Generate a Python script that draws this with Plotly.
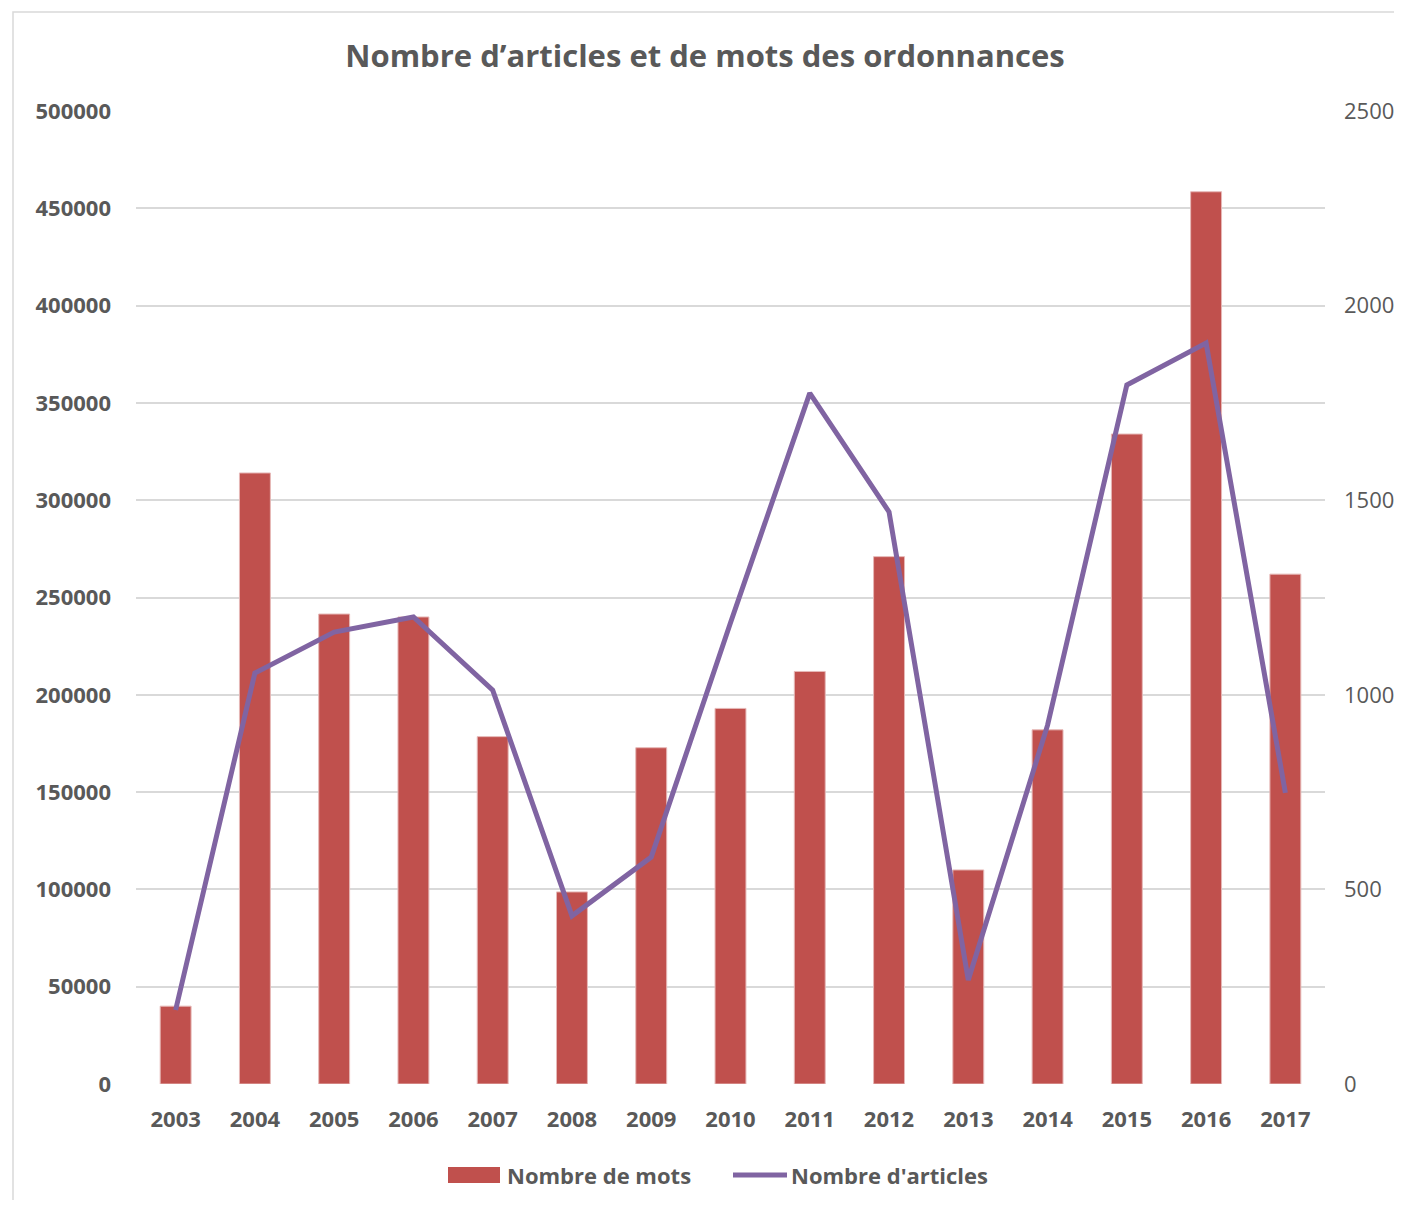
import plotly.graph_objects as go

years = ["2003", "2004", "2005", "2006", "2007", "2008", "2009", "2010",
         "2011", "2012", "2013", "2014", "2015", "2016", "2017"]
mots = [40000, 314000, 241500, 240000, 178500, 98700, 172800, 193000,
        212000, 271000, 110000, 182000, 334000, 458500, 262000]
articles = [190, 1056, 1161, 1200, 1012, 432, 583, 1185,
            1775, 1470, 267, 922, 1796, 1904, 748]
left_ticks = [0, 50000, 100000, 150000, 200000, 250000, 300000, 350000, 400000, 450000, 500000]
right_ticks = [0, 500, 1000, 1500, 2000, 2500]

TXT = "#595959"
FONT = "Open Sans"
BAR_COLOR = "#C0504D"
LINE_COLOR = "#8064A2"

# page offset (body margin) compensation
OFF = 8
W, H = 1402 - OFF, 1208 - 2 * OFF
PL, PR, PT, PB = 136 - OFF, 1325 - OFF, 111 - OFF, 1084 - OFF  # plot area in figure px
PW, PH = PR - PL, PB - PT


def px_x(x):
    return (x - OFF - PL) / PW


def px_y(y):
    return (PB - (y - OFF)) / PH


fig = go.Figure()
fig.add_trace(go.Bar(
    x=years, y=mots, name="Nombre de mots",
    marker=dict(color=BAR_COLOR, line=dict(color="#E6B8B7", width=1)),
    yaxis="y", showlegend=False,
))
fig.add_trace(go.Scatter(
    x=years, y=articles, name="Nombre d'articles", mode="lines",
    line=dict(color=LINE_COLOR, width=5),
    yaxis="y2", showlegend=False,
))

fig.update_layout(
    width=W, height=H,
    margin=dict(l=PL, r=W - PR, t=PT, b=H - PB),
    paper_bgcolor="white", plot_bgcolor="white",
    font=dict(family=FONT, color=TXT),
    title=dict(text="<b>Nombre d’articles et de mots des ordonnances</b>",
               x=0.5, xanchor="center", y=1 - (56 - OFF) / H, yanchor="middle",
               font=dict(size=31, color=TXT, family=FONT)),
    bargap=0.61,
    xaxis=dict(type="category", showgrid=False, showline=False, ticks="",
               tickfont=dict(size=22, color=TXT, family=FONT, weight="bold"),
               ticklabelstandoff=20),
    yaxis=dict(range=[0, 500001], tickvals=left_ticks, ticktext=[str(v) for v in left_ticks],
               showgrid=True, gridcolor="#D9D9D9", gridwidth=2, zeroline=False,
               tickfont=dict(size=22, color=TXT, family=FONT, weight="bold"),
               ticklabelstandoff=24, automargin=False),
    yaxis2=dict(range=[0, 2500.002], tickvals=right_ticks, ticktext=[str(v) for v in right_ticks],
                overlaying="y", side="right", showgrid=False, zeroline=False,
                tickfont=dict(size=22, color=TXT, family=FONT),
                ticklabelstandoff=18, automargin=False),
    showlegend=False,
)

# outer border
fig.add_shape(type="rect", xref="paper", yref="paper",
              x0=px_x(13), x1=px_x(1400), y0=px_y(1215), y1=px_y(12),
              line=dict(color="#D9D9D9", width=1.5), layer="below")

# custom legend
LEG_Y = 1175
fig.add_shape(type="rect", xref="paper", yref="paper",
              x0=px_x(448), x1=px_x(500), y0=px_y(1183), y1=px_y(1167),
              fillcolor=BAR_COLOR, line=dict(width=0))
fig.add_annotation(xref="paper", yref="paper", x=px_x(505), y=px_y(LEG_Y),
                   xanchor="left", yanchor="middle", showarrow=False,
                   text="<b>Nombre de mots</b>",
                   font=dict(size=22, color=TXT, family=FONT))
fig.add_shape(type="line", xref="paper", yref="paper",
              x0=px_x(733), x1=px_x(787), y0=px_y(LEG_Y), y1=px_y(LEG_Y),
              line=dict(color=LINE_COLOR, width=5))
fig.add_annotation(xref="paper", yref="paper", x=px_x(789), y=px_y(LEG_Y),
                   xanchor="left", yanchor="middle", showarrow=False,
                   text="<b>Nombre d'articles</b>",
                   font=dict(size=22, color=TXT, family=FONT))

fig.write_html("out.html")
